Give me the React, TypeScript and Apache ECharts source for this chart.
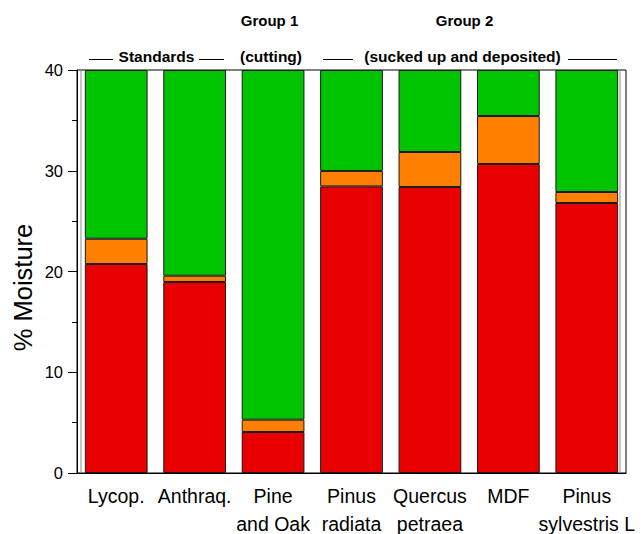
import React, { useEffect, useRef } from "react";
import * as echarts from "echarts";

const categories = ["Lycop.", "Anthraq.", "Pine\nand Oak", "Pinus\nradiata", "Quercus\npetraea", "MDF", "Pinus\nsylvestris L"];
const redValues = [20.74, 18.96, 4.07, 28.45, 28.39, 30.67, 26.8];
const orangeValues = [2.51, 0.62, 1.22, 1.53, 3.47, 4.76, 1.09];
const greenValues = [16.75, 20.42, 34.71, 10.02, 8.14, 4.57, 12.11];
const yTicks = [0, 10, 20, 30, 40];
const yAxisTitle = "% Moisture";
const groupLabels = ["Group 1", "Group 2"];
const subLabels = ["Standards", "(cutting)", "(sucked up and deposited)"];

const FONT = "Arial, 'Liberation Sans', sans-serif";

export default function App() {
  const ref = useRef<HTMLDivElement>(null);
  useEffect(() => {
    if (!ref.current) return;
    const chart = echarts.init(ref.current, null, { renderer: "svg" });
    const barStyle = (color: string) => ({ color, borderColor: "#1a1a1a", borderWidth: 1 });
    const lineStyle = { stroke: "#000", lineWidth: 1 };
    const greyLine = { stroke: "#8a8a8a", lineWidth: 1 };
    const bold = `bold 15.5px ${FONT}`;
    const txt = (text: string, x: number, y: number, font: string) => ({
      type: "text", x, y, style: { text, font, fill: "#000", align: "center", verticalAlign: "middle" },
    });
    chart.setOption({
      animation: false,
      backgroundColor: "#fff",
      grid: {
        left: 77, right: 17, top: 70, bottom: 61, show: true, borderColor: "#000", borderWidth: 1,
        backgroundColor: "transparent", containLabel: false, outerBoundsMode: "none",
      },
      xAxis: {
        type: "category",
        data: categories,
        axisLine: { lineStyle: { color: "#000", width: 1 } },
        axisTick: { alignWithLabel: true, length: 9, lineStyle: { color: "#000" } },
        axisLabel: { color: "#000", fontSize: 19.5, fontFamily: FONT, margin: 9, lineHeight: 28, interval: 0, hideOverlap: false },
      },
      yAxis: {
        type: "value",
        min: yTicks[0],
        max: yTicks[yTicks.length - 1],
        interval: 10,
        axisLine: { show: true, lineStyle: { color: "#000", width: 1 } },
        axisTick: { show: true, length: 9, lineStyle: { color: "#000" } },
        minorTick: { show: true, splitNumber: 2, length: 5, lineStyle: { color: "#000" } },
        splitLine: { show: false },
        axisLabel: { color: "#000", fontSize: 16.5, fontFamily: FONT, margin: 14 },
      },
      series: [
        { name: "red", type: "bar", stack: "m", data: redValues, barWidth: "80%", itemStyle: barStyle("#E80000") },
        { name: "orange", type: "bar", stack: "m", data: orangeValues, barWidth: "80%", itemStyle: barStyle("#FF8000") },
        { name: "green", type: "bar", stack: "m", data: greenValues, barWidth: "80%", itemStyle: barStyle("#00C400") },
      ],
      graphic: [
        { type: "text", x: 23, y: 287.5, rotation: Math.PI / 2, style: { text: yAxisTitle, font: `25.5px ${FONT}`, fill: "#000", align: "center", verticalAlign: "middle" } },
        txt(groupLabels[0], 269.5, 20.5, `bold 15px ${FONT}`),
        txt(groupLabels[1], 464.5, 20.5, `bold 15px ${FONT}`),
        txt(subLabels[0], 156.5, 56.5, bold),
        txt(subLabels[1], 271, 56.5, bold),
        txt(subLabels[2], 462.5, 56.5, bold),
        { type: "line", shape: { x1: 89, y1: 59.5, x2: 113, y2: 59.5 }, style: lineStyle },
        { type: "line", shape: { x1: 199, y1: 59.5, x2: 224, y2: 59.5 }, style: lineStyle },
        { type: "line", shape: { x1: 323, y1: 59.5, x2: 353, y2: 59.5 }, style: lineStyle },
        { type: "line", shape: { x1: 568, y1: 59.5, x2: 617, y2: 59.5 }, style: lineStyle },
        { type: "line", shape: { x1: 81, y1: 70, x2: 81, y2: 473 }, style: greyLine },
        { type: "line", shape: { x1: 620, y1: 70, x2: 620, y2: 473 }, style: greyLine },
      ],
    });
    return () => chart.dispose();
  }, []);
  return <div ref={ref} style={{ position: "fixed", left: 0, top: 0, width: 643, height: 534 }} />;
}
